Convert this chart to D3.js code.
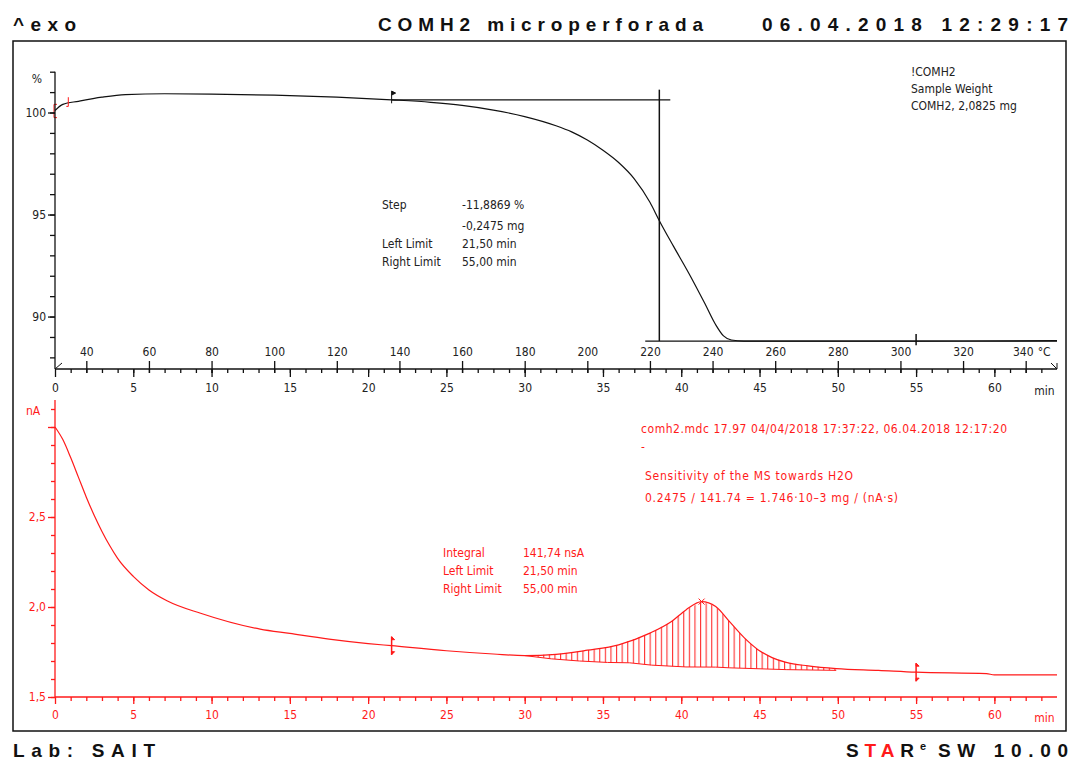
<!DOCTYPE html>
<html>
<head>
<meta charset="utf-8">
<script src="https://cdn.jsdelivr.net/npm/d3@7"></script>
<style>
  body { margin: 0; background: #fff; }
  svg { display: block; }
  .small { font-family: "DejaVu Sans Condensed", "Liberation Sans Narrow", "Liberation Sans", sans-serif; font-size: 12px; }
  .head { font-family: "Liberation Sans", Arial, sans-serif; font-size: 19px; font-weight: bold; fill: #111; }
</style>
</head>
<body>
<div id="myChart"></div>
<script>
// TG curve (weight %) vs time (min)
let tgTime = [0, 0.5, 1.5, 3, 4.5, 7, 10, 14, 18, 21.5, 24, 26, 28, 30, 32, 33, 34, 35, 36, 37, 38, 38.6, 39.5, 40.5, 41.5, 42.2, 42.7, 43.2, 44, 55, 64];
let tgPct  = [100.1, 100.4, 100.55, 100.75, 100.88, 100.92, 100.9, 100.85, 100.75, 100.62, 100.5, 100.35, 100.12, 99.8, 99.35, 99.05, 98.65, 98.15, 97.55, 96.75, 95.6, 94.7, 93.45, 92.1, 90.65, 89.6, 89.05, 88.85, 88.8, 88.8, 88.82];

// MS ion current (nA) vs time (min)
let msTime    = [0, 0.5, 1, 1.5, 2, 2.5, 3, 3.5, 4, 5, 6, 7.15, 9.3, 13.1, 15, 17.5, 20, 21.5, 25, 28, 30, 32, 34, 36, 38, 39.4, 40.3, 41.3, 42.2, 43.1, 44, 44.9, 45.8, 46.7, 48.1, 49.9, 52.6, 55, 59.5, 60, 64];
let msCurrent = [3.0, 2.93, 2.83, 2.72, 2.61, 2.51, 2.42, 2.34, 2.27, 2.17, 2.095, 2.035, 1.965, 1.877, 1.853, 1.822, 1.797, 1.785, 1.757, 1.739, 1.73, 1.737, 1.76, 1.79, 1.855, 1.921, 1.984, 2.03, 2.003, 1.917, 1.831, 1.763, 1.719, 1.692, 1.673, 1.658, 1.648, 1.638, 1.63, 1.623, 1.623];

// integration baseline under the peak
let baseTime    = [30, 31.7, 33.5, 35.3, 36.7, 38.1, 40.3, 42.2, 43.1, 46.7, 49.9];
let baseCurrent = [1.73, 1.712, 1.70, 1.692, 1.69, 1.677, 1.667, 1.666, 1.662, 1.652, 1.648];

// step evaluation
let stepLeft = 21.5, stepRight = 55, stepMid = 38.6;
let stepHigh = 100.62, stepLow = 88.8;
let peakTime = 41.3, peakValue = 2.03;

let timeLabels = [0, 5, 10, 15, 20, 25, 30, 35, 40, 45, 50, 55, 60];
let tempLabels = [40, 60, 80, 100, 120, 140, 160, 180, 200, 220, 240, 260, 280, 300, 320, 340];
let pctLabels = [90, 95, 100];
let nALabels = [1.5, 2.0, 2.5];

let stepText = [["Step", "-11,8869 %"], ["", "-0,2475 mg"], ["Left Limit", "21,50 min"], ["Right Limit", "55,00 min"]];
let intText = [["Integral", "141,74 nsA"], ["Left Limit", "21,50 min"], ["Right Limit", "55,00 min"]];
let sampleText = ["!COMH2", "Sample Weight", "COMH2, 2,0825 mg"];
let msText = ["comh2.mdc 17.97 04/04/2018 17:37:22, 06.04.2018 12:17:20", "-", "Sensitivity of the MS towards H2O", "0.2475 / 141.74 = 1.746\u00b710\u20133 mg / (nA\u00b7s)"];

const RED = "#ff1a1a", INK = "#222";

let svg = d3.select("#myChart").append("svg")
  .attr("width", 1075)
  .attr("height", 760);

let x = d3.scaleLinear().domain([0, 64]).range([55, 1057]);
let temp = d3.scaleLinear().domain([30, 350]).range([55, 1057]);
let yTop = d3.scaleLinear().domain([87.43, 102]).range([369, 71.7]);
let yBot = d3.scaleLinear().domain([1.5, 2.5]).range([697, 517]);

// frame
svg.append("rect").attr("x", 13).attr("y", 41).attr("width", 1053).attr("height", 690)
  .attr("fill", "none").attr("stroke", "#111").attr("stroke-width", 1.5);

// header / footer
svg.append("text").attr("class", "head").attr("x", 13).attr("y", 31)
  .attr("textLength", 63).attr("lengthAdjust", "spacing").text("^exo");
svg.append("text").attr("class", "head").attr("x", 378).attr("y", 31)
  .attr("textLength", 325).attr("lengthAdjust", "spacing").text("COMH2 microperforada");
svg.append("text").attr("class", "head").attr("x", 762).attr("y", 31)
  .attr("textLength", 306).attr("lengthAdjust", "spacing").text("06.04.2018 12:29:17");
svg.append("text").attr("class", "head").attr("x", 13).attr("y", 757)
  .attr("textLength", 142).attr("lengthAdjust", "spacing").text("Lab: SAIT");
let star = svg.append("text").attr("class", "head").attr("x", 846).attr("y", 757)
  .attr("textLength", 80).attr("lengthAdjust", "spacing");
star.append("tspan").text("S");
star.append("tspan").attr("fill", RED).text("TA");
star.append("tspan").text("R");
star.append("tspan").attr("dy", -7).attr("font-size", 11).text("e");
svg.append("text").attr("class", "head").attr("x", 938).attr("y", 757)
  .attr("textLength", 130).attr("lengthAdjust", "spacing").text("SW 10.00");

// ---------- top panel ----------
let topG = svg.append("g");

let tgLine = d3.line().x((d, i) => x(tgTime[i])).y(d => yTop(d)).curve(d3.curveMonotoneX);
topG.append("path").attr("d", tgLine(tgPct)).attr("fill", "none").attr("stroke", "#111").attr("stroke-width", 1.2);

// step construction lines
topG.append("line").attr("x1", x(stepLeft)).attr("x2", x(39.3)).attr("y1", yTop(stepHigh)).attr("y2", yTop(stepHigh))
  .attr("stroke", "#111").attr("stroke-width", 1.2);
topG.append("line").attr("x1", x(37.7)).attr("x2", x(64)).attr("y1", yTop(stepLow)).attr("y2", yTop(stepLow))
  .attr("stroke", "#111").attr("stroke-width", 1.2);
topG.append("line").attr("x1", x(stepMid)).attr("x2", x(stepMid)).attr("y1", yTop(101.12)).attr("y2", yTop(stepLow))
  .attr("stroke", "#111").attr("stroke-width", 1.5);

// limit markers on TG
topG.append("path").attr("d", `M${x(stepLeft)},${yTop(100.45)}V${yTop(101.05)}l4,2l-4,2`).attr("fill", "#111").attr("stroke", "#111");
topG.append("line").attr("x1", x(stepRight)).attr("x2", x(stepRight)).attr("y1", yTop(88.6)).attr("y2", yTop(89.15))
  .attr("stroke", "#111").attr("stroke-width", 1.5);
topG.append("path").attr("d", `M${x(0) + 2},${yTop(100.4)}h-3v${yTop(99.75) - yTop(100.4)}h3`).attr("fill", "none").attr("stroke", RED);
topG.append("path").attr("d", `M${x(0.85)},${yTop(100.75)}V${yTop(100.3)}h-2`).attr("fill", "none").attr("stroke", RED);

// y axis (%)
let yTopMinor = topG.append("g").attr("transform", "translate(55,0)")
  .call(d3.axisLeft(yTop).tickValues(d3.range(88, 103, 1)).tickSize(5).tickFormat(""));
yTopMinor.select(".domain").attr("d", `M0,${yTop(102)}V369`);
let yTopMajor = topG.append("g").attr("transform", "translate(55,0)")
  .call(d3.axisLeft(yTop).tickValues(pctLabels).tickSize(7).tickPadding(2));
yTopMajor.select(".domain").remove();
topG.append("text").attr("class", "small").attr("x", 37).attr("y", 83).attr("text-anchor", "middle").attr("fill", INK).text("%");

// time axis + temperature axis
let tMinor = topG.append("g").attr("transform", "translate(0,369)")
  .call(d3.axisBottom(x).tickValues(d3.range(1, 64, 1)).tickSize(4).tickFormat(""));
tMinor.select(".domain").attr("d", `M${x(0)},0H${x(64)}`);
let tMajor = topG.append("g").attr("transform", "translate(0,369)")
  .call(d3.axisBottom(x).tickValues(timeLabels).tickSize(8).tickPadding(6));
tMajor.select(".domain").remove();
let tempAxis = topG.append("g").attr("transform", "translate(0,369)")
  .call(d3.axisTop(temp).tickValues(tempLabels).tickSize(8).tickPadding(5));
tempAxis.select(".domain").remove();
tempAxis.selectAll(".tick line").attr("y1", 4);
tempAxis.selectAll(".tick text").filter(d => d === 340).attr("dx", -3);
topG.append("text").attr("class", "small").attr("x", temp(340) + 12).attr("y", 356).attr("fill", INK).text("\u00b0C");
topG.append("text").attr("class", "small").attr("x", x(63.2)).attr("y", 395).attr("text-anchor", "middle").attr("fill", INK).text("min");
topG.append("path").attr("d", `M${x(0)},369l7,-6`).attr("stroke", "#111");
topG.append("path").attr("d", `M${x(64)},369l-6,-6M${x(64)},369v-6`).attr("stroke", "#111");

[yTopMinor, yTopMajor, tMinor, tMajor, tempAxis].forEach(g => {
  g.selectAll("line, path").attr("stroke", "#111").attr("stroke-width", 1.3);
  g.selectAll("text").attr("class", "small").attr("font-family", null).attr("font-size", null).attr("fill", INK);
});

// annotations
stepText.forEach((r, i) => {
  let yy = [209, 230, 248, 266][i];
  topG.append("text").attr("class", "small").attr("x", 382).attr("y", yy).attr("fill", INK).text(r[0]);
  topG.append("text").attr("class", "small").attr("x", 462).attr("y", yy).attr("fill", INK).text(r[1]);
});
sampleText.forEach((s, i) => {
  topG.append("text").attr("class", "small").attr("x", 911).attr("y", 76 + i * 17).attr("fill", INK).text(s);
});

// ---------- bottom panel ----------
let botG = svg.append("g");

// hatch pattern
let defs = svg.append("defs");
let pat = defs.append("pattern").attr("id", "hatch").attr("patternUnits", "userSpaceOnUse")
  .attr("width", 5.6).attr("height", 20);
pat.append("line").attr("x1", 0.6).attr("x2", 0.6).attr("y1", 0).attr("y2", 20).attr("stroke", RED).attr("stroke-width", 1);

let upper = msTime.map((t, i) => [x(t), yBot(msCurrent[i])]).filter((p, i) => msTime[i] >= 30 && msTime[i] <= 49.9);
let lower = baseTime.map((t, i) => [x(t), yBot(baseCurrent[i])]).reverse();
botG.append("path").attr("d", d3.line().curve(d3.curveLinear)(upper.concat(lower)) + "Z").attr("fill", "url(#hatch)");
botG.append("path").attr("d", d3.line().x((d, i) => x(baseTime[i])).y(d => yBot(d))(baseCurrent))
  .attr("fill", "none").attr("stroke", RED).attr("stroke-width", 1);

let msLine = d3.line().x((d, i) => x(msTime[i])).y(d => yBot(d)).curve(d3.curveMonotoneX);
botG.append("path").attr("d", msLine(msCurrent)).attr("fill", "none").attr("stroke", RED).attr("stroke-width", 1.2);

// limit markers
[stepLeft, stepRight].forEach(t => {
  let yv = yBot(msCurrent[d3.bisectLeft(msTime, t)]);
  let xv = x(t);
  botG.append("line").attr("x1", xv).attr("x2", xv).attr("y1", yv - 9).attr("y2", yv + 9).attr("stroke", RED).attr("stroke-width", 1.5);
  botG.append("path").attr("d", `M${xv},${yv - 9}l3,3h-3Z M${xv},${yv + 9}l3,-3h-3Z`).attr("fill", RED).attr("stroke", RED);
});
let px = x(peakTime), py = yBot(peakValue);
botG.append("path").attr("d", `M${px - 3},${py - 3}l6,6M${px + 3},${py - 3}l-6,6`).attr("stroke", RED);

// axes
let yBotMinor = botG.append("g").attr("transform", "translate(55,0)")
  .call(d3.axisLeft(yBot).tickValues(d3.range(15, 32, 1).map(v => v / 10)).tickSize(4).tickFormat(""));
yBotMinor.select(".domain").attr("d", "M0,400V697");
let yBotMajor = botG.append("g").attr("transform", "translate(55,0)")
  .call(d3.axisLeft(yBot).tickValues([1.5, 2.0, 2.5, 3.0]).tickSize(7).tickPadding(2)
    .tickFormat(d => nALabels.includes(d) ? d.toFixed(1).replace(".", ",") : ""));
yBotMajor.select(".domain").remove();
botG.append("text").attr("class", "small").attr("x", 33).attr("y", 415).attr("text-anchor", "middle").attr("fill", RED).text("nA");

let bMinor = botG.append("g").attr("transform", "translate(0,697)")
  .call(d3.axisBottom(x).tickValues(d3.range(1, 64, 1)).tickSize(4).tickFormat(""));
bMinor.select(".domain").attr("d", `M${x(0)},0H${x(64)}`);
let bMajor = botG.append("g").attr("transform", "translate(0,697)")
  .call(d3.axisBottom(x).tickValues(timeLabels).tickSize(7).tickPadding(6));
bMajor.select(".domain").remove();
botG.append("text").attr("class", "small").attr("x", x(63.2)).attr("y", 722).attr("text-anchor", "middle").attr("fill", RED).text("min");

[yBotMinor, yBotMajor, bMinor, bMajor].forEach(g => {
  g.selectAll("line, path").attr("stroke", RED).attr("stroke-width", 1.3);
  g.selectAll("text").attr("class", "small").attr("font-family", null).attr("font-size", null).attr("fill", RED);
});

intText.forEach((r, i) => {
  botG.append("text").attr("class", "small").attr("x", 443).attr("y", 557 + i * 18).attr("fill", RED).text(r[0]);
  botG.append("text").attr("class", "small").attr("x", 523).attr("y", 557 + i * 18).attr("fill", RED).text(r[1]);
});
let msLen = [366, null, 208, 253];
msText.forEach((s, i) => {
  let t = botG.append("text").attr("class", "small").attr("x", i < 2 ? 641 : 645).attr("y", [433, 451, 480, 502][i]).attr("fill", RED).text(s);
  if (msLen[i]) t.attr("textLength", msLen[i]).attr("lengthAdjust", "spacing");
});
</script>
</body>
</html>
